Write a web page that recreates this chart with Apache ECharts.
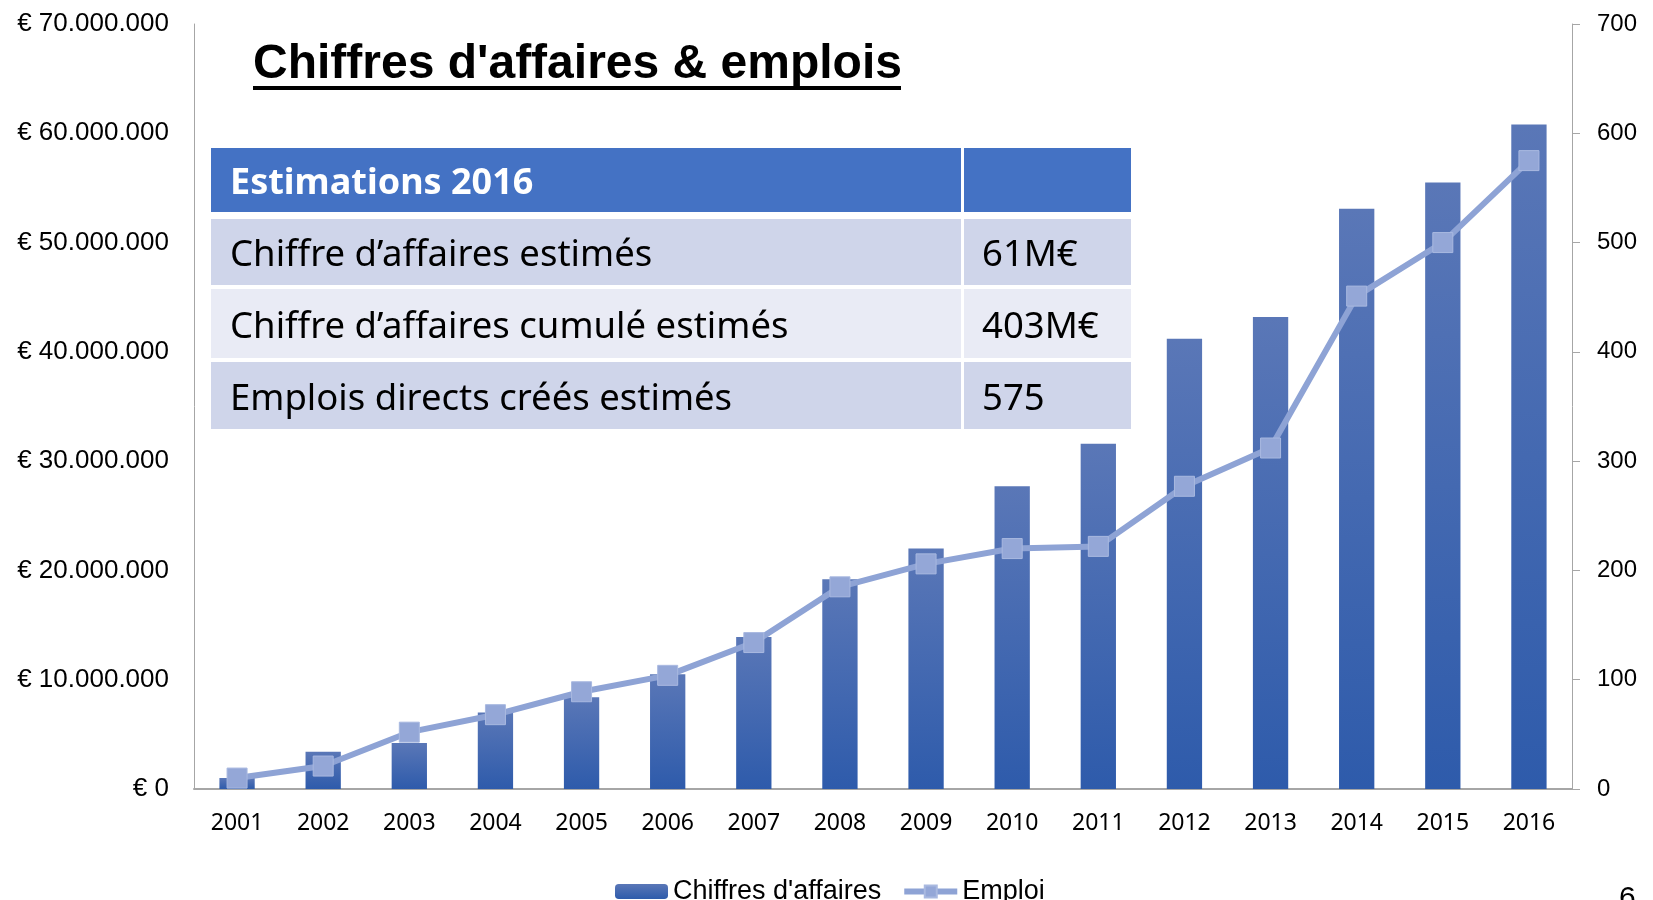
<!DOCTYPE html>
<html>
<head>
<meta charset="utf-8">
<script src="https://cdn.jsdelivr.net/npm/echarts@6/dist/echarts.min.js"></script>
<style>
  html, body { margin: 0; padding: 0; background: #fff; }
  #chart { width: 1653px; height: 900px; }
</style>
</head>
<body>
<div id="chart"></div>
<script>
// données
var annees = ['2001','2002','2003','2004','2005','2006','2007','2008','2009','2010','2011','2012','2013','2014','2015','2016'];
var chiffresAffaires = [1000000, 3400000, 4200000, 7000000, 8400000, 10500000, 13900000, 19200000, 22000000, 27700000, 31600000, 41200000, 43200000, 53100000, 55500000, 60800000];
var emploi = [10, 21, 52, 68, 89, 104, 134, 185, 206, 220, 222, 277, 312, 451, 500, 575];

var tableTitre = 'Estimations 2016';
var tableLignes = ['Chiffre d\u2019affaires estimés', 'Chiffre d\u2019affaires cumulé estimés', 'Emplois directs créés estimés'];
var tableValeurs = ['61M€', '403M€', '575'];

var myChart = echarts.init(document.getElementById('chart'));

function euro(v) {
    var s = String(Math.round(v)).replace(/\B(?=(\d{3})+(?!\d))/g, '.');
    return '€ ' + s;
}

// tableau superposé
var tab = [];
var tx0 = 211, tx1 = 1131, tcol = 962;
var rowsY = [[148, 212], [219, 285], [289, 358], [362, 429]];
var rowColors = ['#4472c4', '#cfd5ea', '#e9ebf5', '#cfd5ea'];
for (var i = 0; i < rowsY.length; i++) {
    var y0 = rowsY[i][0], h = rowsY[i][1] - rowsY[i][0];
    tab.push({ type: 'rect', shape: { x: tx0, y: y0, width: tcol - tx0 - 1, height: h }, style: { fill: rowColors[i] }, z: 10 });
    tab.push({ type: 'rect', shape: { x: tcol + 2, y: y0, width: tx1 - tcol - 2, height: h }, style: { fill: rowColors[i] }, z: 10 });
    var label = i === 0 ? tableTitre : tableLignes[i - 1];
    tab.push({
        type: 'text', x: 230, y: y0 + h / 2 + 4, z: 11,
        style: { text: label, fill: i === 0 ? '#fff' : '#000', font: (i === 0 ? 'bold 36px' : '36.5px') + ' "Noto Sans"', textVerticalAlign: 'middle' }
    });
    if (i > 0) {
        tab.push({
            type: 'text', x: 982, y: y0 + h / 2 + 4, z: 11,
            style: { text: tableValeurs[i - 1], fill: '#000', font: '36.5px "Noto Sans"', textVerticalAlign: 'middle' }
        });
    }
}

var option = {
    backgroundColor: '#fff',
    animation: false,
    grid: { left: 194, right: 81, top: 24, bottom: 111 },
    legend: {
        left: 610, top: 873,
        itemWidth: 53, itemHeight: 15, itemGap: 20,
        textStyle: { fontFamily: 'Liberation Sans', fontSize: 27, color: '#000' },
        data: [
            { name: 'Chiffres d\'affaires' },
            { name: 'Emploi', itemStyle: { color: '#94a7d7' }, lineStyle: { color: '#8ea3d5', width: 6 } }
        ]
    },
    xAxis: {
        type: 'category',
        data: annees,
        axisTick: { show: false },
        axisLine: { lineStyle: { color: '#a6a6a6', width: 2 } },
        axisLabel: { color: '#000', fontFamily: 'Noto Sans', fontSize: 23, margin: 23 }
    },
    yAxis: [
        {
            type: 'value', min: 0, max: 70000000, interval: 10000000,
            splitLine: { show: false },
            axisTick: { show: false },
            axisLine: { show: true, lineStyle: { color: '#a6a6a6', width: 1 } },
            axisLabel: { color: '#000', fontFamily: 'Liberation Sans', fontSize: 26, margin: 25, formatter: euro }
        },
        {
            type: 'value', min: 0, max: 700, interval: 100, position: 'right',
            splitLine: { show: false },
            axisTick: { show: true, length: 8, lineStyle: { color: '#a6a6a6' } },
            axisLine: { show: true, lineStyle: { color: '#a6a6a6', width: 1 } },
            axisLabel: { color: '#000', fontFamily: 'Liberation Sans', fontSize: 24, margin: 25 }
        }
    ],
    series: [
        {
            name: 'Chiffres d\'affaires',
            type: 'bar',
            barWidth: '41%',
            data: chiffresAffaires,
            itemStyle: {
                color: new echarts.graphic.LinearGradient(0, 0, 0, 1, [
                    { offset: 0, color: '#5a77b7' },
                    { offset: 1, color: '#2e5bab' }
                ])
            }
        },
        {
            name: 'Emploi',
            type: 'line',
            yAxisIndex: 1,
            data: emploi,
            symbol: 'rect',
            symbolSize: 20,
            lineStyle: { color: '#8ea3d5', width: 6 },
            itemStyle: { color: '#94a7d7', borderColor: '#a9b9e0', borderWidth: 1 },
            z: 5
        }
    ],
    graphic: [
        {
            type: 'text', x: 253, y: 65, z: 12,
            style: { text: 'Chiffres d\'affaires & emplois', fill: '#000', font: 'bold 48px "Liberation Sans"', textVerticalAlign: 'middle' }
        },
        { type: 'rect', shape: { x: 253, y: 86, width: 648, height: 4 }, style: { fill: '#000' }, z: 12 },
        {
            type: 'text', x: 1619, y: 884, z: 12,
            style: { text: '6', fill: '#000', font: '30px "Liberation Sans"' }
        }
    ].concat(tab)
};

myChart.setOption(option);
</script>
</body>
</html>
